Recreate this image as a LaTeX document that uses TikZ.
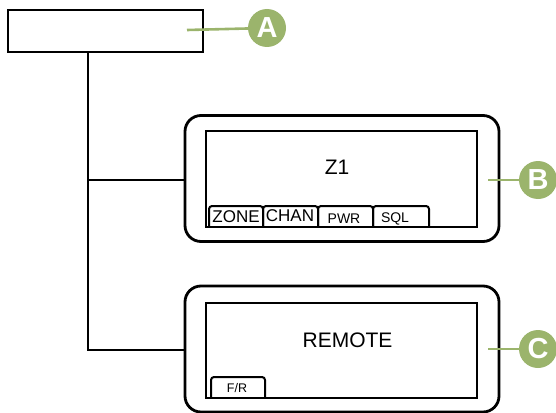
\documentclass[tikz,border=0pt]{standalone}
\usepackage{fontspec}
\setmainfont{Liberation Sans}
\definecolor{callgreen}{HTML}{9BB46C}

\tikzset{
    panel/.style={draw, line width=2.8pt, rounded corners=16pt, inner sep=0pt},
    screen/.style={draw, line width=2.4pt, inner sep=0pt},
    tabline/.style={line width=2pt, rounded corners=3pt},
    callout/.style={circle, fill=callgreen, text=white, minimum size=38pt, inner sep=0pt, font=\fontsize{29}{29}\bfseries\selectfont},
    leader/.style={callgreen, line width=2.6pt},
    wire/.style={line width=2.2pt},
}

\begin{document}
\begin{tikzpicture}[x=1pt, y=-1pt]
    \useasboundingbox (0,0) rectangle (556,412);

    % top box and A
    \node[draw, line width=2.8pt, minimum width=195pt, minimum height=42pt, inner sep=0pt] (top) at (105.5,31) {};
    \node[callout] (labelA) at (267,28) {A};
    \coordinate (tipA) at (187,30);
    \draw[leader] (tipA) -- (labelA);

    % panel B
    \node[panel, minimum width=314pt, minimum height=126pt] (panelB) at (342,178.5) {};
    \node[screen, minimum width=271pt, minimum height=96pt] (screenB) at (341.5,179) {};
    \node[font=\fontsize{21}{22}\selectfont] (z1) at (337,167) {Z1};
    \foreach \xa/\xb/\txt/\fs/\cx/\cy in {209/263/ZONE/17/236/216.5, 263/318/CHAN/17/290/216, 318/373/PWR/14/344/218.5, 373/429/SQL/14/395/218.5} {
        \draw[tabline] (\xa,227) -- (\xa,206) -- (\xb,206) -- (\xb,227);
        \node[font=\fontsize{\fs}{\fs}\selectfont, inner sep=0pt] (tab\txt) at (\cx,\cy) {\txt};
    }
    \node[callout] (labelB) at (538,180) {B};
    \coordinate (tipB) at (488,180);
    \draw[leader] (tipB) -- (labelB);

    % panel C
    \node[panel, minimum width=314pt, minimum height=126pt] (panelC) at (342,349) {};
    \node[screen, minimum width=271pt, minimum height=95pt] (screenC) at (341.5,350.5) {};
    \node[font=\fontsize{21}{22}\selectfont] (remote) at (347.5,340) {REMOTE};
    \draw[tabline] (211,398) -- (211,377) -- (265,377) -- (265,398);
    \node[font=\fontsize{12.5}{13}\selectfont, inner sep=0pt] (tabFR) at (237,388.5) {F/R};
    \node[callout] (labelC) at (538,349) {C};
    \coordinate (tipC) at (488,349);
    \draw[leader] (tipC) -- (labelC);

    % wiring
    \coordinate (drop) at (88,52);
    \coordinate (joinB) at (88,180);
    \coordinate (joinC) at (88,350);
    \draw[wire] (drop) -- (joinC) -- (panelC.west |- joinC);
    \draw[wire] (joinB) -- (panelB.west |- joinB);
\end{tikzpicture}
\end{document}
